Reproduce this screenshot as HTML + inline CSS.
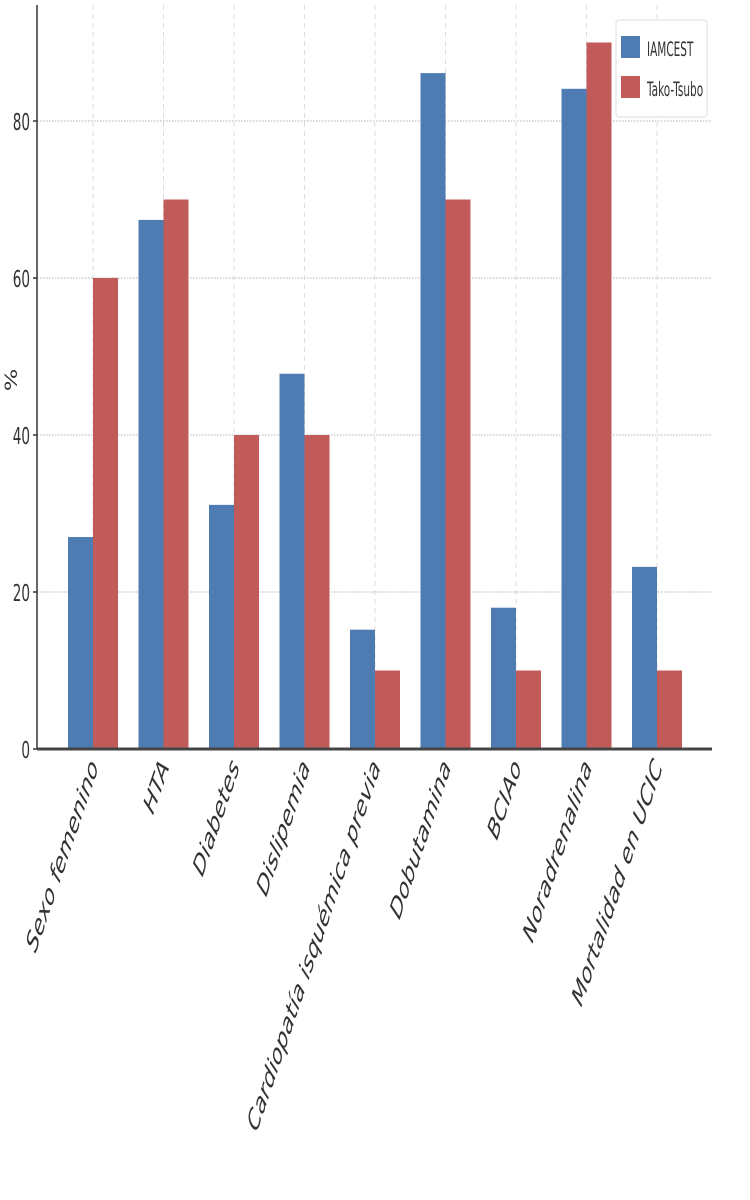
<!DOCTYPE html>
<html><head><meta charset="utf-8"><style>
body{margin:0;background:#fff}
svg{display:block;font-family:"DejaVu Sans","Liberation Sans",sans-serif}
</style></head><body>
<svg id="chart" width="750" height="1200" viewBox="0 0 750 1200">
<g id="grid"></g>
<g id="bars"></g>
<g id="axes"></g>
<text transform="translate(17,380) scale(1,1.4) rotate(-90)" font-size="17" text-anchor="middle" fill="#333">%</text>
<g>
<rect x="616" y="20" width="91" height="97" rx="3" fill="#fff" stroke="#ddd"/>
<rect x="621" y="36" width="19" height="22" fill="#4e7cb2"/>
<text transform="translate(647,56) scale(0.7,1.3)" font-size="15" fill="#333">IAMCEST</text>
<rect x="621" y="76" width="19" height="22" fill="#c05b5a"/>
<text transform="translate(647,96) scale(0.7,1.3)" font-size="15" fill="#333">Tako-Tsubo</text>
</g>
</svg>
<script>
const categories=["Sexo femenino","HTA","Diabetes","Dislipemia","Cardiopatía isquémica previa","Dobutamina","BCIAo","Noradrenalina","Mortalidad en UCIC"];
const iamcest=[27,67.4,31.1,47.8,15.2,86.1,18,84.1,23.2];
const tako=[60,70,40,40,10,70,10,90,10];
const yTicks=[0,20,40,60,80];
const NS="http://www.w3.org/2000/svg";
const x0=37,x1=712,yTop=5,yBase=749,pxPer=7.85;
const groupStart=93,groupStep=70.5,bw=25;
function y(v){return yBase-v*pxPer;}
function xc(i){return groupStart+i*groupStep;}
function mk(tag,attrs,parent){const e=document.createElementNS(NS,tag);for(const k in attrs)e.setAttribute(k,attrs[k]);parent.appendChild(e);return e;}
const grid=document.getElementById('grid'),bars=document.getElementById('bars'),axes=document.getElementById('axes');
yTicks.forEach(t=>{
  if(t>0){const l=mk('line',{x1:x0,x2:x1,y1:y(t),y2:y(t),stroke:'#ccc','stroke-width':1.5,'stroke-dasharray':'1.5 1.5'},grid);
  
  }
  const tk=mk('line',{x1:x0-4,x2:x0,y1:y(t),y2:y(t),stroke:'#333','stroke-width':1.5},axes);
  
  
  const tx=mk('text',{transform:`translate(${x0-7},${y(t)+9}) scale(0.85,1.45)`,'font-size':16,'text-anchor':'end',fill:'#333'},axes);
  
  
  tx.textContent=t;
});
categories.forEach((c,i)=>{
  const g=mk('line',{x1:xc(i),x2:xc(i),y1:yTop,y2:yBase,stroke:'#ddd','stroke-width':1,'stroke-dasharray':'5 4'},grid);
  
  
  const b=mk('rect',{x:xc(i)-bw,y:y(iamcest[i]),width:bw,height:iamcest[i]*pxPer,fill:'#4e7cb2'},bars);
  
  
  const r=mk('rect',{x:xc(i),y:y(tako[i]),width:bw,height:tako[i]*pxPer,fill:'#c05b5a'},bars);
  
  
  const lb=mk('text',{transform:`translate(${xc(i)+6},${yBase+18}) scale(1,1.7) rotate(-60)`,'font-size':17,'font-style':'italic','text-anchor':'end',fill:'#333'},axes);
  
  
  lb.textContent=c;
});
const ya=mk('line',{x1:x0,x2:x0,y1:yTop,y2:yBase,stroke:'#333','stroke-width':1.5},axes);


const xa=mk('line',{x1:x0,x2:x1,y1:yBase,y2:yBase,stroke:'#444','stroke-width':3},axes);


</script>
</body></html>
